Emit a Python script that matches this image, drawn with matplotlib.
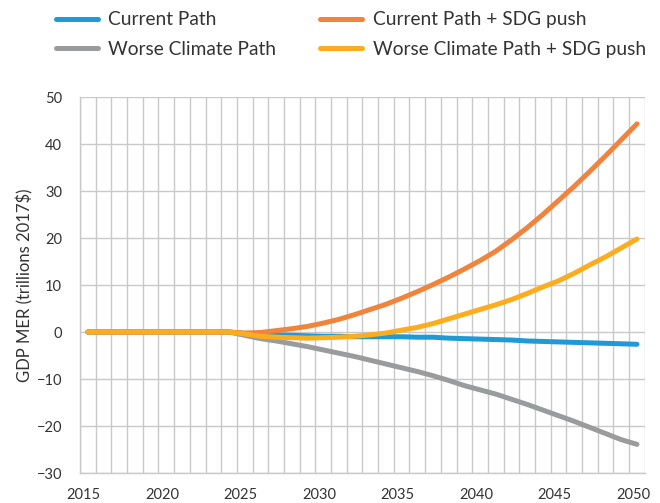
import matplotlib
matplotlib.use("Agg")
import matplotlib.pyplot as plt
import matplotlib.transforms as mtransforms
from matplotlib.ticker import MultipleLocator, FixedLocator

years = list(range(2015, 2051))

# 2015-2024 all scenarios sit at zero
flat = [0.0] * 10

current_path = flat + [-0.3, -0.5, -0.6, -0.7, -0.8, -0.9, -0.9, -1.0, -1.0, -1.0,
                       -1.0, -1.1, -1.1, -1.3, -1.4, -1.5, -1.6, -1.7, -1.9, -2.0,
                       -2.1, -2.2, -2.3, -2.4, -2.5, -2.6]
current_sdg = flat + [-0.2, -0.1, 0.3, 0.7, 1.2, 1.9, 2.7, 3.7, 4.8, 5.9,
                      7.2, 8.6, 10.1, 11.7, 13.4, 15.2, 17.2, 19.6, 22.2, 25.0,
                      28.0, 31.0, 34.2, 37.5, 40.9, 44.3]
worse_climate = flat + [-0.7, -1.4, -1.9, -2.5, -3.1, -3.8, -4.5, -5.2, -6.0, -6.8,
                        -7.6, -8.4, -9.3, -10.3, -11.4, -12.3, -13.2, -14.3, -15.4, -16.6,
                        -17.8, -19.0, -20.3, -21.6, -22.9, -23.9]
worse_sdg = flat + [-0.4, -0.9, -1.1, -1.2, -1.3, -1.2, -1.1, -0.9, -0.6, -0.2,
                    0.4, 1.0, 1.8, 2.8, 3.8, 4.8, 5.8, 6.9, 8.2, 9.6,
                    10.9, 12.5, 14.3, 16.0, 17.9, 19.8]

series = [
    ("Current Path", current_path, "#1f9ad6"),
    ("Worse Climate Path", worse_climate, "#9a9b9c"),
    ("Current Path + SDG push", current_sdg, "#f1843c"),
    ("Worse Climate Path + SDG push", worse_sdg, "#fbad1f"),
]
draw_order = [0, 2, 1, 3]

plt.rcParams["font.family"] = ["Lato", "DejaVu Sans"]
text_color = "#333333"

fig = plt.figure(figsize=(6.6, 5.03), dpi=100)
ax = fig.add_axes([0.1212, 0.0596, 0.8558, 0.7474])

handles = {}
for i in draw_order:
    label, vals, color = series[i]
    (line,) = ax.plot(years, vals, color=color, lw=3.6, solid_capstyle="round",
                      solid_joinstyle="round", label=label)
    handles[i] = line

ax.set_xlim(2014.5, 2050.5)
ax.set_ylim(-30, 50)
ax.yaxis.set_major_locator(MultipleLocator(10))
ax.xaxis.set_major_locator(FixedLocator(list(range(2015, 2051, 5))))
ax.xaxis.set_minor_locator(FixedLocator([y + 0.5 for y in range(2014, 2051)]))

ax.grid(which="minor", axis="x", color="#c9c9c9", lw=1.0)
ax.grid(which="major", axis="y", color="#c9c9c9", lw=1.0)
ax.set_axisbelow(True)
for side in ["top", "right"]:
    ax.spines[side].set_visible(False)
for side in ["left", "bottom"]:
    ax.spines[side].set_color("#c9c9c9")
    ax.spines[side].set_linewidth(1.0)

ax.tick_params(axis="both", which="both", length=0, labelsize=10.5, colors=text_color)
ax.tick_params(axis="y", pad=13)
ax.tick_params(axis="x", pad=11)
shift = mtransforms.ScaledTranslation(-4 / 100, 0, fig.dpi_scale_trans)
for lbl in ax.get_xticklabels():
    lbl.set_transform(lbl.get_transform() + shift)
ax.set_ylabel("GDP MER (trillions 2017$)", fontsize=12, color=text_color, labelpad=2)

fig.legend([handles[i] for i in range(4)], [s[0] for s in series], ncol=2,
           loc="upper left", bbox_to_anchor=(0.058, 1.012), frameon=False,
           fontsize=13.8, handlelength=2.2, handletextpad=0.55, columnspacing=2.3,
           labelspacing=0.65, labelcolor=text_color)

fig.savefig("out.png", dpi=100)
